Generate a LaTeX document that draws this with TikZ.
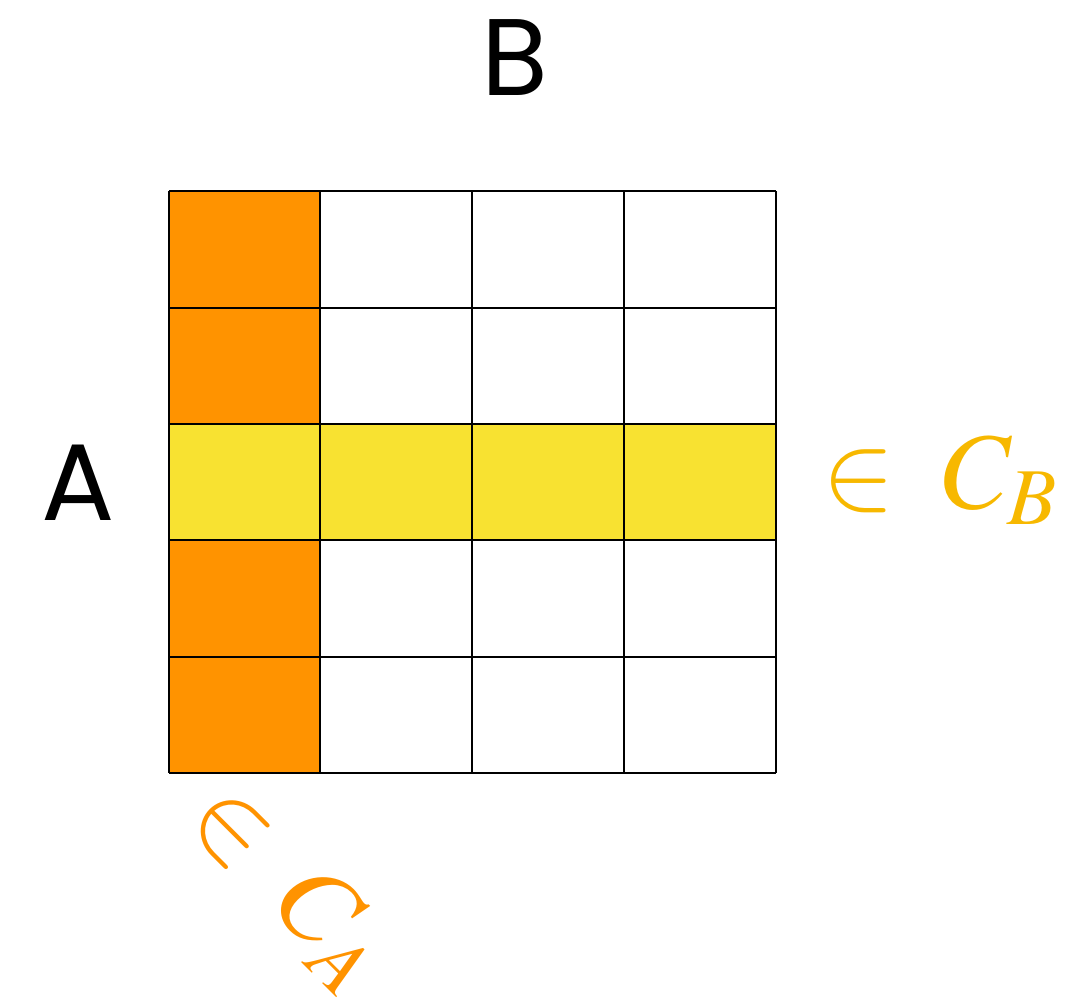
\RequirePackage{fix-cm}
\documentclass[tikz,border=0pt]{standalone}
\usepackage{amsmath,amssymb}
\usepackage{mathptmx}
\usepackage[no-math]{fontspec}
\usepackage{tikz}
\usepackage{xcolor}
\newfontfamily\handfont{Poppins}
\definecolor{cellorange}{HTML}{FF9300}
\definecolor{cellyellow}{HTML}{F8E231}
\definecolor{labgold}{HTML}{F7B800}

\begin{document}
\begin{tikzpicture}[x=0.02cm, y=-0.02cm, line width=1.6pt,
  every node/.style={inner sep=0pt},
  hand/.style={font=\handfont\fontsize{62}{70}\selectfont},
  setlab/.style={font=\fontsize{62}{70}\selectfont}]
\useasboundingbox (0,0) rectangle (1086,1004);
% shaded cells
\fill[cellorange] (169,191) rectangle (320,773);
\fill[cellyellow] (169,424) rectangle (776,540);
% grid
\foreach \x in {169,320,472,624,776} \draw (\x,191) -- (\x,773);
\foreach \y in {191,308,424,540,657,773} \draw (169,\y) -- (776,\y);
% labels
\node[hand] (b) at (515,58) {B};
\node[hand] (a) at (78,483) {A};
\node[setlab, text=labgold] (cb) at (940,480) {$\in\; C_B$};
\node[setlab, text=cellorange, rotate=-45] (ca) at (288,886) {$\in\; C_A$};
\end{tikzpicture}
\end{document}
